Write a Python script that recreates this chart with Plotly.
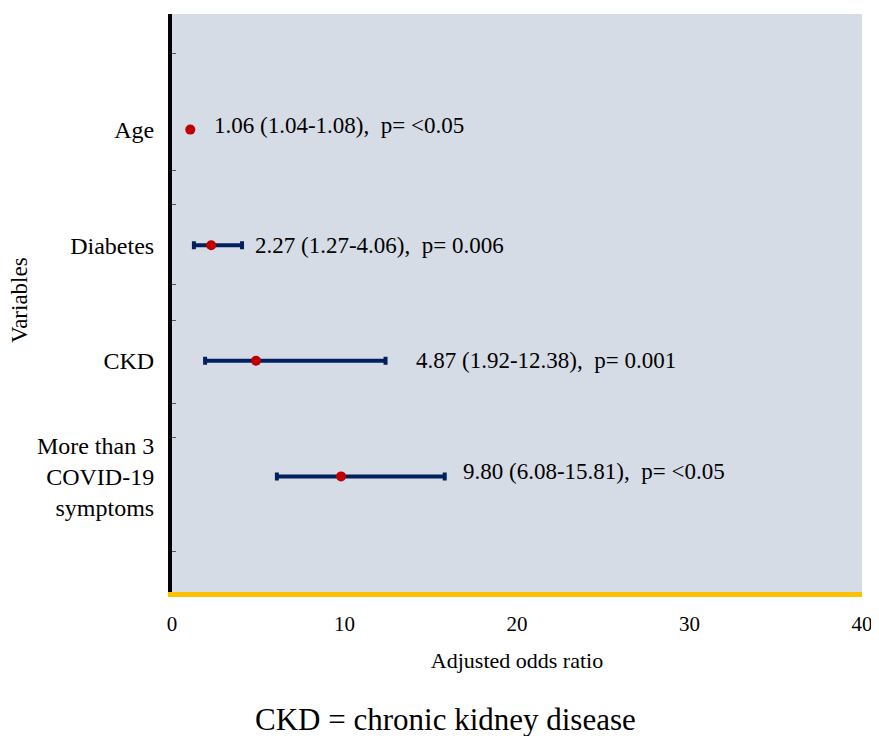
import plotly.graph_objects as go

# ---- data ----
variables = ["Age", "Diabetes", "CKD", "More than 3<br>COVID-19<br>symptoms"]
aor = [1.06, 2.27, 4.87, 9.80]
ci_low = [1.04, 1.27, 1.92, 6.08]
ci_high = [1.08, 4.06, 12.38, 15.81]
p_text = ["<0.05", "0.006", "0.001", "<0.05"]
x_ticks = [0, 10, 20, 30, 40]

# ---- styles (label offsets in px) ----
label_xshift = [21, 11, 28, 16]
label_yshift = [4, 0, 0, 5]
FONT = "Liberation Serif, Times New Roman, serif"

ypos = list(range(1, len(variables) + 1))

fig = go.Figure()
fig.add_trace(go.Scatter(
    x=aor, y=ypos, mode="markers",
    marker=dict(color="#C00000", size=10),
    error_x=dict(type="data", symmetric=False,
                 array=[h - a for h, a in zip(ci_high, aor)],
                 arrayminus=[a - l for a, l in zip(aor, ci_low)],
                 color="#002060", thickness=4, width=4),
    showlegend=False, hoverinfo="x+y",
))

for i in range(len(variables)):
    fig.add_annotation(
        x=ci_high[i], y=ypos[i], xref="x", yref="y",
        text=f"{aor[i]:.2f} ({ci_low[i]:.2f}-{ci_high[i]:.2f}),  p= {p_text[i]}",
        showarrow=False, xanchor="left", yanchor="middle",
        xshift=label_xshift[i], yshift=label_yshift[i],
        font=dict(family=FONT, size=23, color="black"),
    )

fig.add_annotation(
    text="Variables", textangle=-90, xref="paper", yref="paper",
    x=-0.222, y=0.505, showarrow=False, xanchor="center", yanchor="middle",
    font=dict(family=FONT, size=23, color="black"),
)
fig.add_annotation(
    text="CKD = chronic kidney disease", xref="paper", yref="paper",
    x=0.397, y=-0.221, showarrow=False, xanchor="center", yanchor="middle",
    font=dict(family=FONT, size=31, color="black"),
)

fig.update_layout(
    width=871, height=728,
    margin=dict(l=164, r=14, t=6, b=144),
    paper_bgcolor="white", plot_bgcolor="#D6DCE5",
    font=dict(family=FONT, color="black"),
    xaxis=dict(
        range=[0, 40], tickvals=x_ticks, ticks="", showgrid=False, zeroline=False,
        showline=True, linecolor="#FFC000", linewidth=5,
        tickfont=dict(family=FONT, size=21, color="black"),
        ticklabelstandoff=9,
        title=dict(text="Adjusted odds ratio", font=dict(family=FONT, size=22, color="black"),
                   standoff=19),
    ),
    yaxis=dict(
        range=[5, 0], tickvals=ypos, ticktext=variables, ticks="", showgrid=False,
        zeroline=False, showline=True, linecolor="black", linewidth=4,
        tickfont=dict(family=FONT, size=24, color="black"),
        ticklabelstandoff=9,
        minor=dict(tickvals=[0.34, 1.35, 1.65, 2.34, 2.65, 3.37, 3.66, 4.65],
                   ticks="inside", ticklen=4, tickcolor="#555555", tickwidth=1),
    ),
)

fig.write_html("out.html")
